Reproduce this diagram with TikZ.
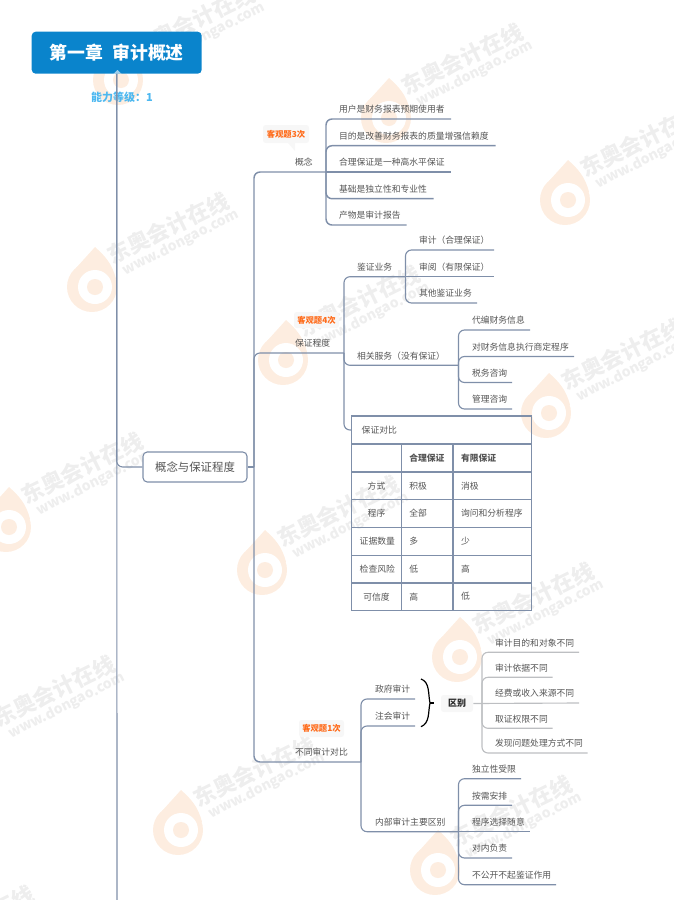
\documentclass[tikz,border=0pt]{standalone}
\usepackage{fontspec}
\setmainfont{Noto Sans CJK SC}
\definecolor{linkc}{HTML}{7F8FA9}
\definecolor{grayl}{HTML}{BDBFC2}
\definecolor{txt}{HTML}{555555}
\definecolor{titleb}{HTML}{0A84CC}
\definecolor{abil}{HTML}{4DB8F0}
\definecolor{tago}{HTML}{FF6B1A}
\definecolor{tagb}{HTML}{F7F7F7}
\definecolor{wmg}{HTML}{EEEEEE}
\definecolor{wmo}{HTML}{FDEDE0}
\newcommand{\fpx}[1]{\pgfmathparse{#1*0.75}\fontsize{\pgfmathresult pt}{#1pt}\selectfont}
\newcommand{\leafnode}[6]{%
  \pgfmathsetmacro\lfw{(#4-#2)*0.75}%
  \pgfmathsetmacro\lfp{(#5-#2)*0.75}%
  \node[leafbox] (#1) at (#2,#3) {\makebox[\lfw pt][l]{\hspace{\lfp pt}\vphantom{国}#6}};}
\newcommand{\tolink}[3][link]{\draw[#1] (#2.south east) |- (#3.south east);}
\newcommand{\straight}[3][link]{\draw[#1] (#2.south east) -- (#3.south east);}
\newcommand{\tagnote}[6]{%
  \node[tagbox,minimum width={(#4-#2)*0.75pt},minimum height={(#5-#3)*0.75pt}] (#1) at ({(#2+#4)/2},{(#3+#5)/2}) {#6};}
\newcommand{\tcell}[8]{%
  \pgfmathsetmacro\cw{(#4-#2)*0.75}%
  \pgfmathsetmacro\ch{(#5-#3)*0.75}%
  \node[tablecell,minimum width=\cw pt,minimum height=\ch pt,text width=\cw pt-12pt,align=#6] (#1) at ({(#2+#4)/2},{(#3+#5)/2}) {#7\vphantom{国}#8};}
\newcommand{\wmlogo}[2]{%
  \begin{scope}[shift={(#1,#2)}]
    \fill[wmo] (0,0) circle[radius=25];
    \fill[wmo] (-16,-19) -- (3,-40) .. controls (12,-32) and (20,-24) .. (24,-8) -- cycle;
    \fill[white] (3,0) circle[radius=17];
    \fill[wmo] (3,0) circle[radius=8];
  \end{scope}}
\newcommand{\wmtext}[3]{%
  \begin{scope}[shift={(#2,#3)}]
    \node[rotate=26,text=wmg,font=\fpx{22}\bfseries,inner sep=0] (#1a) at (76,-59) {东奥会计在线};
    \node[rotate=27,text=wmg,font=\fpx{14}\bfseries,inner sep=0] (#1b) at (89,-44) {www.dongao.com};
  \end{scope}}
\tikzset{
  x=0.75pt,y=-0.75pt,
  link/.style={draw=linkc,line width=0.85pt,rounded corners=4.5pt},
  linkb/.style={draw=linkc,line width=1.1pt,rounded corners=4.5pt},
  graylink/.style={draw=grayl,line width=0.85pt,rounded corners=4.5pt},
  leafbox/.style={anchor=south west,inner sep=0,outer sep=0,minimum height=14.25pt,text=txt,font=\fpx{8.8}},
  tagbox/.style={fill=tagb,rounded corners=2pt,inner sep=0,text=tago,font=\fpx{8.3}\bfseries},
  tablecell/.style={draw=linkc,line width=1pt,inner xsep=0,inner ysep=0,outer sep=0,text=txt,font=\fpx{8.8}},
}
\begin{document}
\begin{tikzpicture}
\useasboundingbox (0,0) rectangle (674,900);
\begin{scope}
\clip (0,0) rectangle (674,900);
\wmlogo{118}{80}
\wmlogo{386}{118}
\wmlogo{565}{200}
\wmlogo{92}{287}
\wmlogo{283}{360}
\wmlogo{546}{413}
\wmlogo{6}{527}
\wmlogo{262}{570}
\wmlogo{457}{657}
\wmlogo{178}{830}
\wmlogo{435}{870}
\wmtext{wa}{118}{80}
\wmtext{wb}{386}{118}
\wmtext{wc}{565}{200}
\wmtext{wd}{92}{287}
\wmtext{we}{283}{360}
\wmtext{wf}{546}{413}
\wmtext{wg}{6}{527}
\wmtext{wh}{262}{570}
\wmtext{wi}{457}{657}
\wmtext{wj}{-22}{750}
\wmtext{wk}{178}{830}
\wmtext{wl}{435}{870}
\wmtext{wm}{-103}{980}
\end{scope}

% title and trunk
\node[fill=titleb,rounded corners=3pt,minimum width=127.5pt,minimum height=31.5pt,inner sep=0,text=white,font=\fpx{17.8}\bfseries] (title) at (116.7,52.7) {第一章\hspace{7pt}审计概述};
\fill[white,opacity=.6] (113.5,73.7) -- (117.5,70) -- (121.5,73.7) -- cycle;
\node[text=abil,font=\fpx{11}\bfseries,inner sep=0] (level) at (122,97) {能力等级：1};
\coordinate (trunkend) at (117,900);
\node[draw=linkc,line width=0.85pt,rounded corners=3.2pt,minimum width=78pt,minimum height=22.5pt,inner sep=0,fill=white,text=txt,font=\fpx{11.4}] (main) at (195,467) {概念与保证程度};
\draw[link] (title.south) -- (trunkend);
\draw[link] (title.south) |- (main.west);
\coordinate (hub) at (254,467);
\draw[link] (main.east) -- (hub);

% branch 1
\leafnode{gn}{254}{172}{326}{295}{概念}
\tolink[linkb]{hub}{gn}
\tagnote{tagA}{263}{125}{309}{143}{客观题3次}
\fill[tagb] (288,143) -- (295,151) -- (295,143) -- cycle;
\leafnode{a1}{326}{119}{451}{339}{用户是财务报表预期使用者}
\leafnode{a2}{326}{145.7}{495.6}{339}{目的是改善财务报表的质量增强信赖度}
\leafnode{a3}{326}{172}{451}{339}{合理保证是一种高水平保证}
\leafnode{a4}{326}{198.7}{433.7}{339}{基础是独立性和专业性}
\leafnode{a5}{326}{225}{406.7}{339}{产物是审计报告}
\tolink[linkb]{gn}{a1}\tolink[linkb]{gn}{a2}\straight[linkb]{gn}{a3}\tolink[linkb]{gn}{a4}\tolink[linkb]{gn}{a5}

% branch 2
\leafnode{bz}{254}{353}{344}{295}{保证程度}
\tolink{hub}{bz}
\tagnote{tagB}{294}{312}{339}{328}{客观题4次}
\leafnode{jz}{344}{276.7}{405.5}{357}{鉴证业务}
\leafnode{b1}{405.5}{250}{494}{419}{审计（合理保证）}
\leafnode{b2}{405.5}{276.7}{494}{419}{审阅（有限保证）}
\leafnode{b3}{405.5}{303}{477}{419}{其他鉴证业务}
\tolink{bz}{jz}
\tolink{jz}{b1}\straight{jz}{b2}\tolink{jz}{b3}
\leafnode{xg}{344}{365.3}{458.5}{357}{相关服务（没有保证）}
\leafnode{c1}{458.5}{330}{530}{472}{代编财务信息}
\leafnode{c2}{458.5}{356.5}{574}{472}{对财务信息执行商定程序}
\leafnode{c3}{458.5}{382.5}{512}{472}{税务咨询}
\leafnode{c4}{458.5}{409}{512}{472}{管理咨询}
\tolink{bz}{xg}
\tolink{xg}{c1}\tolink{xg}{c2}\tolink{xg}{c3}\tolink{xg}{c4}

% table
\tcell{t0}{351.7}{416}{531.7}{444}{left}{}{\hspace{1.5pt}保证对比}
\draw[link] (bz.south east) |- (t0.west);
\tcell{t11}{351.7}{444}{401.3}{472}{center}{}{}
\tcell{t12}{401.3}{444}{453}{472}{left}{\bfseries}{合理保证}
\tcell{t13}{453}{444}{531.7}{472}{left}{\bfseries}{有限保证}
\tcell{t21}{351.7}{472}{401.3}{499.5}{center}{}{方式}
\tcell{t22}{401.3}{472}{453}{499.5}{left}{}{积极}
\tcell{t23}{453}{472}{531.7}{499.5}{left}{}{消极}
\tcell{t31}{351.7}{499.5}{401.3}{527.3}{center}{}{程序}
\tcell{t32}{401.3}{499.5}{453}{527.3}{left}{}{全部}
\tcell{t33}{453}{499.5}{531.7}{527.3}{left}{}{询问和分析程序}
\tcell{t41}{351.7}{527.3}{401.3}{555.3}{center}{}{证据数量}
\tcell{t42}{401.3}{527.3}{453}{555.3}{left}{}{多}
\tcell{t43}{453}{527.3}{531.7}{555.3}{left}{}{少}
\tcell{t51}{351.7}{555.3}{401.3}{583}{center}{}{检查风险}
\tcell{t52}{401.3}{555.3}{453}{583}{left}{}{低}
\tcell{t53}{453}{555.3}{531.7}{583}{left}{}{高}
\tcell{t61}{351.7}{583}{401.3}{610.3}{center}{}{可信度}
\tcell{t62}{401.3}{583}{453}{610.3}{left}{}{高}
\tcell{t63}{453}{583}{531.7}{610.3}{left}{}{低}

% branch 3
\leafnode{bt}{254}{762}{361}{295}{不同审计对比}
\tolink[linkb]{hub}{bt}
\tagnote{tagC}{299}{720}{344}{737}{客观题1次}
\leafnode{zf}{361}{699}{415}{375}{政府审计}
\leafnode{zh}{361}{726}{415}{375}{注会审计}
\tolink{bt}{zf}\tolink{bt}{zh}
\coordinate (bracetop) at (421,679);
\coordinate (bracemid) at (430,703);
\coordinate (bracebot) at (421,726.7);
\coordinate (bracetip) at (434,703);
\draw[black,line width=0.9pt] (bracetop) .. controls (430,682) and (428,694) .. (bracemid) .. controls (428,712) and (430,723) .. (bracebot);
\draw[black,line width=0.9pt] (bracemid) -- (bracetip);
\node[fill=tagb,rounded corners=2pt,minimum width=24pt,minimum height=12.75pt,inner sep=0,text=black!85,font=\fpx{9}\bfseries] (qb) at (457,703.5) {区别};
\coordinate (qhub) at (482,703);
\leafnode{d1}{482}{652.3}{579}{495}{审计目的和对象不同}
\leafnode{d2}{482}{677.3}{552.7}{495}{审计依据不同}
\leafnode{d3}{482}{703}{579}{495}{经费或收入来源不同}
\leafnode{d4}{482}{728.3}{552.7}{495}{取证权限不同}
\leafnode{d5}{482}{753}{587.7}{495}{发现问题处理方式不同}
\draw[graylink] (qb.east) -- (d3.south east);
\draw[graylink] (qhub) |- (d1.south east);
\draw[graylink] (qhub) |- (d2.south east);
\draw[graylink] (qhub) |- (d4.south east);
\draw[graylink] (qhub) |- (d5.south east);
\leafnode{nb}{361}{831.7}{458.5}{375}{内部审计主要区别}
\tolink{bt}{nb}
\leafnode{e1}{458.5}{778.7}{521}{472}{独立性受限}
\leafnode{e2}{458.5}{805.3}{512}{472}{按需安排}
\leafnode{e3}{458.5}{831.7}{530}{472}{程序选择随意}
\leafnode{e4}{458.5}{858}{512}{472}{对内负责}
\leafnode{e5}{458.5}{884.7}{556}{472}{不公开不起鉴证作用}
\tolink{nb}{e1}\tolink{nb}{e2}\straight{nb}{e3}\tolink{nb}{e4}\tolink{nb}{e5}
\end{tikzpicture}
\end{document}
